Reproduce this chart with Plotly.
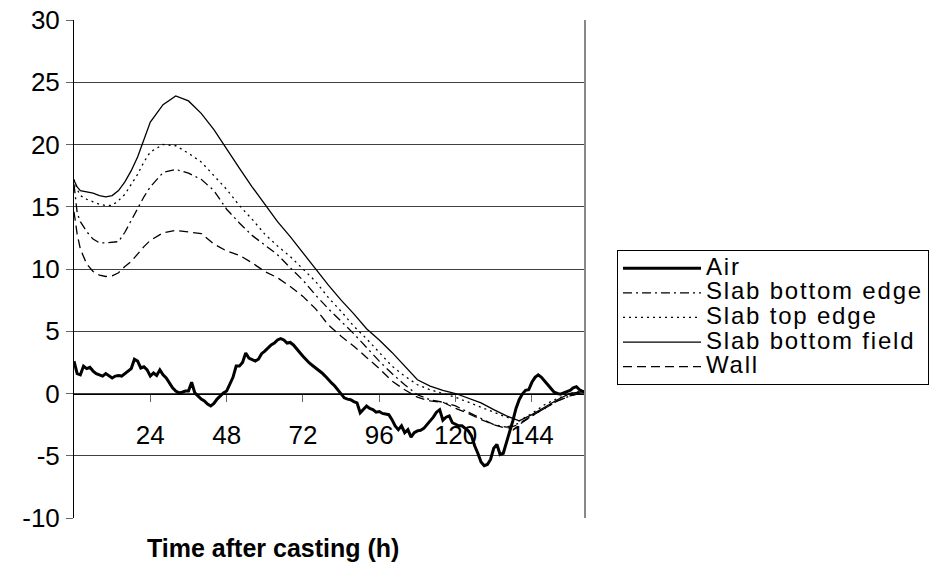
import plotly.graph_objects as go

# ---- data ----
hours = [0, 1, 2, 4, 6, 8, 10, 12, 14, 16, 18, 20, 22, 24, 28, 32, 36, 40, 44, 48,
         52, 56, 60, 64, 68, 72, 76, 80, 84, 88, 92, 96, 100, 104, 108, 112, 116,
         120, 124, 128, 132, 136, 140, 144, 148, 152, 156, 160]

slab_bottom_edge = [16.8, 14.5, 13.8, 13.0, 12.4, 12.1, 12.1, 12.15, 12.2, 12.95, 13.9, 14.8,
                    15.8, 16.6, 17.75, 18.0, 17.7, 17.2, 16.3, 14.8, 13.7, 12.7, 11.9, 11.15,
                    10.1, 9.1, 7.9, 6.8, 5.8, 4.8, 3.7, 2.6, 1.6, 0.7, -0.1, -0.5, -0.7,
                    -1.0, -1.5, -2.0, -2.5, -2.7, -2.4, -1.8, -1.2, -0.6, -0.2, 0.1]

slab_top_edge = [17.2, 16.4, 15.9, 15.6, 15.4, 15.2, 15.1, 15.1, 15.5, 16.0, 16.8, 17.6,
                 18.6, 19.4, 20.0, 19.9, 19.3, 18.6, 17.5, 16.4, 15.1, 14.0, 12.8, 11.85,
                 11.0, 10.0, 9.0, 7.7, 6.6, 5.4, 4.4, 3.3, 2.2, 1.4, 0.7, 0.3, 0.0,
                 -0.3, -0.7, -1.1, -1.5, -1.9, -2.2, -1.6, -0.9, -0.4, 0.0, 0.2]

slab_bottom_field = [17.1, 16.6, 16.3, 16.2, 16.1, 15.9, 15.8, 15.9, 16.3, 17.0, 17.9, 19.0,
                     20.4, 21.8, 23.2, 23.9, 23.5, 22.5, 21.2, 19.6, 18.1, 16.6, 15.2, 13.8,
                     12.6, 11.3, 10.0, 8.7, 7.5, 6.4, 5.2, 4.3, 3.3, 2.2, 1.1, 0.6, 0.25,
                     0.0, -0.35, -0.75, -1.3, -1.8, -2.2, -1.7, -1.1, -0.5, 0.0, 0.15]

wall = [14.6, 12.8, 11.6, 10.4, 9.8, 9.5, 9.4, 9.45, 9.7, 10.2, 10.6, 11.2,
        11.8, 12.3, 12.9, 13.1, 13.0, 12.85, 12.0, 11.45, 11.1, 10.5, 9.8, 9.3,
        8.6, 7.8, 6.8, 5.5, 4.6, 3.8, 2.9, 2.0, 1.0, 0.3, -0.3, -0.6, -0.7,
        -1.2, -1.6, -2.1, -2.5, -2.8, -2.5, -1.8, -1.2, -0.6, -0.2, 0.05]

hours_air = list(range(0, 162))
air = [2.6, 1.6, 1.5, 2.2, 2.0, 2.1, 1.8, 1.6, 1.5, 1.4,
       1.6, 1.45, 1.25, 1.4, 1.45, 1.4, 1.6, 1.8, 2.0, 2.75,
       2.6, 2.05, 2.15, 1.9, 1.4, 1.65, 1.45, 1.9, 1.5, 1.25,
       0.85, 0.45, 0.2, 0.05, 0.1, 0.2, 0.2, 0.9, 0.05, -0.2,
       -0.45, -0.6, -0.85, -1.0, -0.8, -0.45, -0.2, 0.05, 0.2, 0.8,
       1.3, 2.2, 2.2, 2.5, 3.25, 2.85, 2.7, 2.6, 2.75, 3.2,
       3.4, 3.65, 3.9, 4.05, 4.3, 4.4, 4.3, 4.05, 4.1, 3.9,
       3.55, 3.3, 3.0, 2.7, 2.45, 2.25, 2.05, 1.9, 1.65, 1.4,
       1.1, 0.85, 0.6, 0.3, 0.0, -0.35, -0.45, -0.5, -0.65, -0.75,
       -1.55, -1.3, -1.0, -1.2, -1.3, -1.5, -1.45, -1.6, -1.65, -1.7,
       -2.1, -2.6, -2.9, -2.6, -3.15, -2.9, -3.5, -3.15, -3.0, -2.95,
       -2.8, -2.45, -2.2, -1.9, -1.5, -1.3, -2.15, -1.9, -1.8, -2.35,
       -2.45, -2.6, -2.6, -2.8, -3.0, -3.4, -4.2, -4.8, -5.5, -5.8,
       -5.7, -5.3, -4.4, -4.1, -4.9, -4.8, -3.95, -3.2, -2.2, -1.2,
       -0.5, -0.05, 0.25, 0.3, 0.9, 1.3, 1.5, 1.3, 0.95, 0.7,
       0.4, 0.1, 0.0, -0.05, 0.05, 0.15, 0.25, 0.45, 0.55, 0.3,
       0.15, 0.2]

x_ticks = [24, 48, 72, 96, 120, 144]
x_tick_labels = ["24", "48", "72", "96", "120", "144"]
y_ticks = [-10, -5, 0, 5, 10, 15, 20, 25, 30]
y_tick_labels = ["-10", "-5", "0", "5", "10", "15", "20", "25", "30"]

FONT = "Liberation Sans, Arial, sans-serif"


def lg(name):
    return '<span style="font-size:24px;letter-spacing:1.8px">' + name + '</span>'


fig = go.Figure()
fig.add_trace(go.Scatter(x=hours_air, y=air, mode="lines", name=lg("Air"),
                         line=dict(color="black", width=3)))
fig.add_trace(go.Scatter(x=hours, y=slab_bottom_edge, mode="lines", name=lg("Slab bottom edge"),
                         line=dict(color="black", width=1.3, dash="9px,4px,2px,4px")))
fig.add_trace(go.Scatter(x=hours, y=slab_top_edge, mode="lines", name=lg("Slab top edge"),
                         line=dict(color="black", width=1.3, dash="2px,4px")))
fig.add_trace(go.Scatter(x=hours, y=slab_bottom_field, mode="lines", name=lg("Slab bottom field"),
                         line=dict(color="black", width=1.3)))
fig.add_trace(go.Scatter(x=hours, y=wall, mode="lines", name=lg("Wall"),
                         line=dict(color="black", width=1.3, dash="9px,5px")))

fig.update_layout(
    width=936, height=588,
    margin=dict(l=74, r=351, t=20, b=70, autoexpand=False),
    paper_bgcolor="white", plot_bgcolor="white",
    font=dict(family=FONT, size=26, color="black"),
    showlegend=True,
    legend=dict(
        xref="container", yref="container",
        x=617 / 936, y=1 - 250 / 588, xanchor="left", yanchor="top",
        bgcolor="white", bordercolor="black", borderwidth=1,
        font=dict(family=FONT, size=16.6, color="black"),
        itemwidth=78, traceorder="normal",
    ),
    xaxis=dict(
        range=[0, 160.7], automargin=False,
        tickmode="array", tickvals=x_ticks, ticktext=x_tick_labels,
        ticks="outside", ticklen=7, tickcolor="#666", tickwidth=1,
        showline=True, linecolor="black", linewidth=1,
        showgrid=False, zeroline=False,
        anchor="free", position=0.25,
        tickfont=dict(size=26), ticklabelstandoff=11,
        ticklabeloverflow="allow",
    ),
    yaxis=dict(
        range=[-10, 30], automargin=False,
        tickmode="array", tickvals=y_ticks, ticktext=y_tick_labels,
        ticks="outside", ticklen=7, tickcolor="#666", tickwidth=1,
        showline=True, linecolor="black", linewidth=1,
        showgrid=True, gridcolor="#404040", gridwidth=1,
        zeroline=False,
        tickfont=dict(size=26), ticklabelstandoff=1,
        ticklabeloverflow="allow",
    ),
    annotations=[dict(
        text="<b>Time after casting (h)</b>", xref="paper", yref="paper",
        x=0.389, y=-0.06, xanchor="center", yanchor="middle",
        showarrow=False, font=dict(family=FONT, size=25, color="black"),
    )],
    shapes=[dict(type="line", xref="x domain", yref="y domain",
                 x0=1, x1=1, y0=0, y1=1, line=dict(color="#888", width=2))],
)

fig.write_html("out.html", config={"displayModeBar": False},
               post_script="document.body.style.margin='0px';")
